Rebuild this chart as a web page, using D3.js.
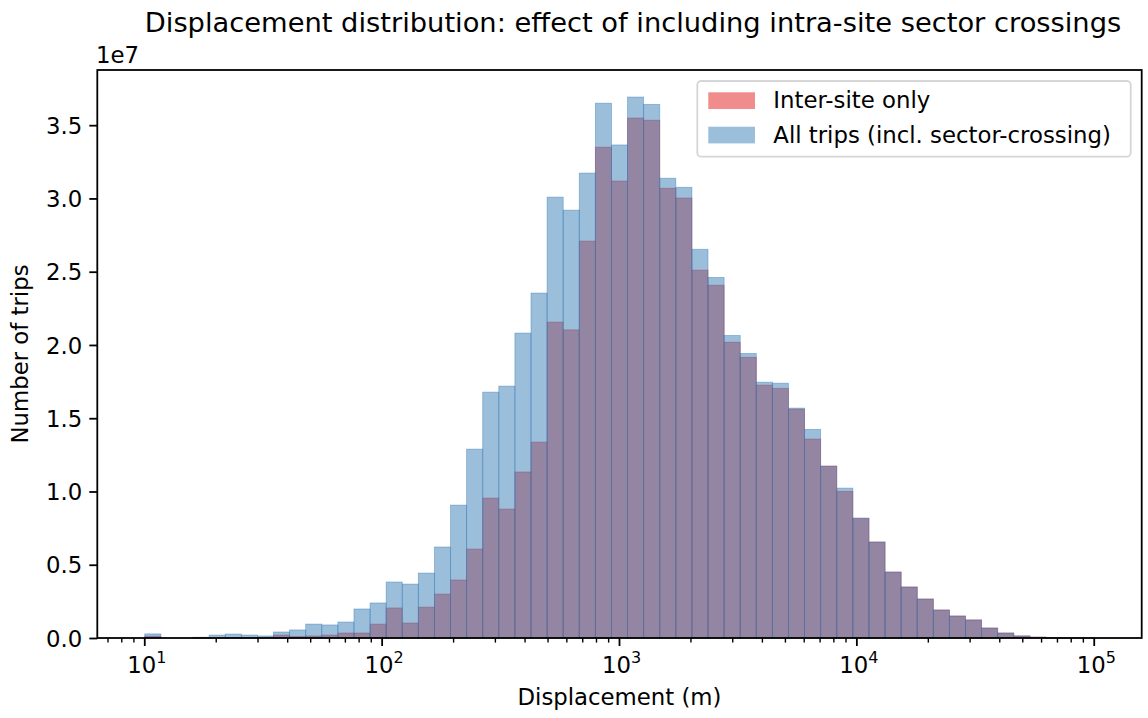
<!DOCTYPE html>
<html>
<head>
<meta charset="utf-8">
<script src="https://cdn.jsdelivr.net/npm/d3@7"></script>
<style>
  body { margin: 0; background: #fff; }
  svg { font-family: "DejaVu Sans", sans-serif; }
</style>
</head>
<body>
<svg id="chart" width="1148" height="718"></svg>
<script>
// histogram counts per log bin, in millions of trips (59 bins, 10 m .. 100 km)
var interSite = [0.12, 0, 0, 0.02, 0.01, 0.03, 0.02, 0.01, 0.20, 0.10,
    0.14, 0.20, 0.34, 0.34, 0.95, 2.05, 1.02, 2.11, 3.00, 3.96,
    6.07, 9.55, 8.80, 11.33, 13.37, 21.56, 21.03, 27.09, 33.50, 31.19,
    35.49, 35.34, 30.70, 30.03, 25.11, 24.08, 20.19, 19.16, 17.26, 17.04,
    15.62, 13.58, 11.73, 10.01, 8.15, 6.55, 4.50, 3.48, 2.66, 1.91,
    1.50, 1.23, 0.68, 0.34, 0.14, 0.06, 0.02, 0.01, 0.005];
var allTrips = [0.28, 0, 0, 0.05, 0.20, 0.27, 0.20, 0.14, 0.41, 0.55,
    0.95, 0.89, 1.09, 1.98, 2.39, 3.82, 3.68, 4.43, 6.21, 9.07,
    12.89, 16.78, 17.19, 20.81, 23.54, 30.09, 29.20, 31.73, 36.50, 33.65,
    36.92, 36.42, 31.38, 30.76, 26.53, 24.61, 20.65, 19.42, 17.46, 17.39,
    15.69, 14.24, 11.73, 10.23, 8.19, 6.55, 4.50, 3.48, 2.66, 1.91,
    1.50, 1.23, 0.68, 0.34, 0.14, 0.06, 0.02, 0.01, 0.005];
var seriesNames = ["Inter-site only", "All trips (incl. sector-crossing)"];
var seriesColors = ["#e41a1c", "#377eb8"];
var yTicks = [0, 0.5e7, 1e7, 1.5e7, 2e7, 2.5e7, 3e7, 3.5e7];
var xMajor = [1, 2, 3, 4, 5];

// bin edges like np.logspace(1, 5, 60)
var binEdges = d3.range(60).map(function (i) { return Math.pow(10, 1 + 4 * i / 59); });

var svg = d3.select("#chart");
var mLeft = 97.3, mRight = 1141.7, mTop = 70, mBottom = 638;
var fs = 22.8;

var x = d3.scaleLog()
    .domain([Math.pow(10, 0.8), Math.pow(10, 5.2)])
    .range([mLeft, mRight]);

var yMax = d3.max(allTrips) * 1e6 * 1.05;
var y = d3.scaleLinear()
    .domain([0, yMax])
    .range([mBottom, mTop]);

function drawBars(vals, color, cls) {
    svg.append("g").attr("class", cls)
        .selectAll("rect")
        .data(vals)
        .enter().append("rect")
        .attr("x", function (d, i) { return x(binEdges[i]); })
        .attr("width", function (d, i) { return x(binEdges[i + 1]) - x(binEdges[i]); })
        .attr("y", function (d) { return y(d * 1e6); })
        .attr("height", function (d) { return mBottom - y(d * 1e6); })
        .attr("fill", color)
        .attr("fill-opacity", 0.5)
        .attr("stroke", function (d) { return d > 0 ? color : "none"; })
        .attr("stroke-opacity", 0.5)
        .attr("stroke-width", 0.8);
}
drawBars(interSite, seriesColors[0], "red");
drawBars(allTrips, seriesColors[1], "blue");

// y axis
var yAxis = d3.axisLeft(y)
    .tickValues(yTicks)
    .tickSize(8)
    .tickPadding(7)
    .tickFormat(function (d) { return (d / 1e7).toFixed(1); });
var gy = svg.append("g")
    .attr("transform", "translate(" + mLeft + ",0)")
    .call(yAxis);
gy.select(".domain").remove();
gy.selectAll(".tick line").attr("stroke", "#000").attr("stroke-width", 1.8);
gy.selectAll(".tick text").attr("font-size", fs).attr("fill", "#000")
    .attr("font-family", "DejaVu Sans").attr("dy", "0.36em");

// x axis, log with minor ticks
var gx = svg.append("g").attr("class", "xaxis");
var minor = [];
for (var e = 0; e <= 5; e++) {
    for (var m = 2; m <= 9; m++) {
        var v = m * Math.pow(10, e);
        if (v > x.domain()[0] && v < x.domain()[1]) minor.push(v);
    }
}
gx.selectAll("line.minor").data(minor).enter().append("line")
    .attr("class", "minor")
    .attr("x1", function (d) { return x(d); }).attr("x2", function (d) { return x(d); })
    .attr("y1", mBottom).attr("y2", mBottom + 4.6)
    .attr("stroke", "#000").attr("stroke-width", 1.4);
gx.selectAll("line.major").data(xMajor).enter().append("line")
    .attr("class", "major")
    .attr("x1", function (d) { return x(Math.pow(10, d)); }).attr("x2", function (d) { return x(Math.pow(10, d)); })
    .attr("y1", mBottom).attr("y2", mBottom + 8)
    .attr("stroke", "#000").attr("stroke-width", 1.8);
var lbl = gx.selectAll("text.major").data(xMajor).enter().append("text")
    .attr("class", "major")
    .attr("x", function (d) { return x(Math.pow(10, d)) + 2; })
    .attr("y", 673)
    .attr("text-anchor", "middle")
    .attr("font-size", fs)
    .attr("fill", "#000");
lbl.append("tspan").text("10");
lbl.append("tspan").attr("dy", -10).attr("font-size", 16).text(function (d) { return d; });

// frame
svg.append("rect")
    .attr("x", mLeft).attr("y", mTop)
    .attr("width", mRight - mLeft).attr("height", mBottom - mTop)
    .attr("fill", "none").attr("stroke", "#000").attr("stroke-width", 1.8);

// texts
svg.append("text").attr("x", 633).attr("y", 32)
    .attr("text-anchor", "middle").attr("font-size", 27.3)
    .text("Displacement distribution: effect of including intra-site sector crossings");
svg.append("text").attr("x", 96).attr("y", 63).attr("font-size", fs).text("1e7");
svg.append("text").attr("x", (mLeft + mRight) / 2).attr("y", 705)
    .attr("text-anchor", "middle").attr("font-size", fs).text("Displacement (m)");
svg.append("text")
    .attr("transform", "translate(28," + ((mTop + mBottom) / 2) + ") rotate(-90)")
    .attr("text-anchor", "middle").attr("font-size", fs).text("Number of trips");

// legend
var lg = svg.append("g").attr("transform", "translate(697.3,81)");
lg.append("rect").attr("width", 433.4).attr("height", 75.7).attr("rx", 4)
    .attr("fill", "#fff").attr("fill-opacity", 0.8)
    .attr("stroke", "#d6d6d6").attr("stroke-width", 1.8);
seriesNames.forEach(function (name, i) {
    lg.append("rect")
        .attr("x", 11).attr("y", 11.3 + i * 34.4)
        .attr("width", 46.7).attr("height", 16.7)
        .attr("fill", seriesColors[i]).attr("fill-opacity", 0.5);
    lg.append("text").attr("x", 76).attr("y", 27.3 + i * 35)
        .attr("font-size", fs).text(name);
});
</script>
</body>
</html>
